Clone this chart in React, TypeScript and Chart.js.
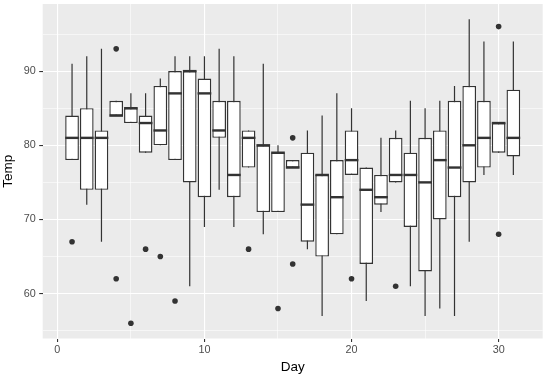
import React, { useEffect, useRef } from "react";
import { Chart, registerables } from "chart.js";

Chart.register(...registerables);

// ---- data (airquality Temp by Day, boxplot statistics) ----
const days = [1, 2, 3, 4, 5, 6, 7, 8, 9, 10, 11, 12, 13, 14, 15, 16, 17, 18, 19, 20, 21, 22, 23, 24, 25, 26, 27, 28, 29, 30, 31];
const whiskerLow = [78, 72, 67, 84, 83, 79, 80, 78, 61, 69, 74, 69, 77, 68, 71, 77, 66, 57, 68, 76, 59, 71, 75, 61, 57, 58, 57, 67, 76, 79, 76];
const lowerHinge = [78, 74, 74, 84, 83, 79, 80, 78, 75, 73, 81, 73, 77, 71, 71, 77, 67, 65, 68, 76, 64, 72, 75, 69, 63, 70, 73, 75, 77, 79, 78.5];
const medians = [81, 81, 81, 84, 85, 83, 82, 87, 90, 87, 82, 76, 81, 80, 79, 77, 72, 76, 73, 78, 74, 73, 76, 76, 75, 78, 77, 80, 81, 83, 81];
const upperHinge = [84, 85, 82, 86, 85, 84, 88, 90, 90, 89, 86, 86, 82, 80, 79, 78, 79, 76, 78, 82, 77, 76, 81, 79, 81, 82, 86, 88, 86, 83, 87.5];
const whiskerHigh = [91, 92, 93, 86, 87, 87, 89, 92, 92, 92, 93, 92, 82, 91, 80, 78, 82, 84, 87, 85, 77, 81, 82, 86, 85, 86, 88, 97, 94, 83, 94];
const outlierDays = [1, 4, 4, 5, 6, 7, 8, 13, 15, 16, 16, 20, 23, 30, 30];
const outlierTemps = [67, 93, 62, 56, 66, 65, 59, 66, 58, 81, 64, 62, 61, 96, 68];

const xMajorTicks = [0, 10, 20, 30];
const xMinorTicks = [5, 15, 25];
const yMajorTicks = [60, 70, 80, 90];
const yMinorTicks = [55, 65, 75, 85, 95];
const xTitle = "Day";
const yTitle = "Temp";

// ---- styling ----
const FONT = "'Liberation Sans', Arial, Helvetica, sans-serif";
const PANEL_BG = "#EBEBEB";
const INK = "#333333";
const TICK_TEXT = "#4D4D4D";
const BOX_W = 1.4;
const WHISKER_W = 1.2;
const MEDIAN_W = 2.4;

const boxParts = {
  id: "boxParts",
  beforeDraw(chart: any) {
    const { ctx, chartArea } = chart;
    ctx.save();
    ctx.fillStyle = PANEL_BG;
    ctx.fillRect(chartArea.left, chartArea.top, chartArea.right - chartArea.left, chartArea.bottom - chartArea.top);
    ctx.restore();
  },
  beforeDatasetDraw(chart: any, args: any) {
    if (args.index !== 0) return;
    const { ctx, chartArea } = chart;
    const y = chart.scales.y;
    ctx.save();
    ctx.beginPath();
    ctx.rect(chartArea.left, chartArea.top, chartArea.right - chartArea.left, chartArea.bottom - chartArea.top);
    ctx.clip();
    ctx.strokeStyle = INK;
    ctx.lineWidth = WHISKER_W;
    args.meta.data.forEach((el: any, i: number) => {
      const px = el.x;
      ctx.beginPath();
      ctx.moveTo(px, y.getPixelForValue(whiskerHigh[i]));
      ctx.lineTo(px, y.getPixelForValue(whiskerLow[i]));
      ctx.stroke();
    });
    ctx.restore();
  },
  afterDatasetDraw(chart: any, args: any) {
    if (args.index !== 0) return;
    const { ctx } = chart;
    const y = chart.scales.y;
    ctx.save();
    ctx.strokeStyle = INK;
    ctx.lineWidth = MEDIAN_W;
    ctx.lineCap = "butt";
    args.meta.data.forEach((el: any, i: number) => {
      const py = y.getPixelForValue(medians[i]);
      ctx.beginPath();
      ctx.moveTo(el.x - el.width / 2, py);
      ctx.lineTo(el.x + el.width / 2, py);
      ctx.stroke();
    });
    ctx.restore();
  },
};

export default function App() {
  const ref = useRef<HTMLCanvasElement>(null);

  useEffect(() => {
    if (!ref.current) return;
    const chart = new Chart(ref.current, {
      type: "bar",
      data: {
        datasets: [
          {
            type: "bar",
            data: days.map((d, i) => ({ x: d, y: [lowerHinge[i], upperHinge[i]] })) as any,
            backgroundColor: "#FFFFFF",
            borderColor: INK,
            borderWidth: BOX_W,
            borderSkipped: false,
            categoryPercentage: 1,
            barPercentage: 0.93,
          } as any,
          {
            type: "scatter",
            data: outlierDays.map((d, i) => ({ x: d, y: outlierTemps[i] })),
            backgroundColor: INK,
            borderWidth: 0,
            pointRadius: 2.8,
          } as any,
        ],
      },
      options: {
        responsive: false,
        devicePixelRatio: 1,
        animation: false,
        layout: { padding: { top: 4, right: 5.3, left: 0, bottom: 0 } },
        plugins: { legend: { display: false }, tooltip: { enabled: false } },
        scales: {
          x: {
            type: "linear",
            min: -0.995,
            max: 32.995,
            offset: false,
            border: { display: false },
            grid: {
              offset: false,
              color: "#FFFFFF",
              lineWidth: (c: any) => (c.tick && xMajorTicks.includes(c.tick.value) ? 1.1 : 0.55),
              tickColor: (c: any) => (c.tick && xMajorTicks.includes(c.tick.value) ? INK : "rgba(0,0,0,0)"),
              tickWidth: 1.1,
              tickLength: 3.5,
            },
            afterBuildTicks: (s: any) => {
              s.ticks = [...xMajorTicks, ...xMinorTicks].sort((a, b) => a - b).map((v) => ({ value: v }));
            },
            afterFit: (s: any) => {
              s.height = 43.5;
              s.paddingLeft = 0;
              s.paddingRight = 0;
              s.paddingTop = 0;
              s.paddingBottom = 0;
            },
            ticks: {
              autoSkip: false,
              maxRotation: 0,
              padding: 2,
              color: TICK_TEXT,
              font: { family: FONT, size: 10.8 },
              callback: (v: any) => (xMajorTicks.includes(Number(v)) ? String(v) : ""),
            },
            title: {
              display: true,
              text: xTitle,
              color: "#000000",
              font: { family: FONT, size: 13.5 },
              padding: { top: 0, bottom: 7 },
            },
          },
          y: {
            type: "linear",
            min: 53.95,
            max: 99.05,
            border: { display: false },
            grid: {
              color: "#FFFFFF",
              lineWidth: (c: any) => (c.tick && yMajorTicks.includes(c.tick.value) ? 1.1 : 0.55),
              tickColor: (c: any) => (c.tick && yMajorTicks.includes(c.tick.value) ? INK : "rgba(0,0,0,0)"),
              tickWidth: 1.1,
              tickLength: 3.5,
            },
            afterBuildTicks: (s: any) => {
              s.ticks = [...yMajorTicks, ...yMinorTicks].sort((a, b) => a - b).map((v) => ({ value: v }));
            },
            afterFit: (s: any) => {
              s.width = 42.7;
              s.paddingLeft = 0;
              s.paddingRight = 0;
              s.paddingTop = 0;
              s.paddingBottom = 0;
            },
            ticks: {
              autoSkip: false,
              padding: 3.5,
              color: TICK_TEXT,
              font: { family: FONT, size: 10.8 },
              callback: (v: any) => (yMajorTicks.includes(Number(v)) ? String(v) : ""),
            },
            title: {
              display: true,
              text: yTitle,
              color: "#000000",
              font: { family: FONT, size: 13.5 },
              padding: { top: 0.5, bottom: 0 },
            },
          },
        },
      } as any,
      plugins: [boxParts as any],
    });
    return () => chart.destroy();
  }, []);

  return (
    <div style={{ position: "absolute", left: 0, top: 0, width: 548, height: 382 }}>
      <canvas ref={ref} width={548} height={382} style={{ display: "block", width: 548, height: 382 }} />
    </div>
  );
}
